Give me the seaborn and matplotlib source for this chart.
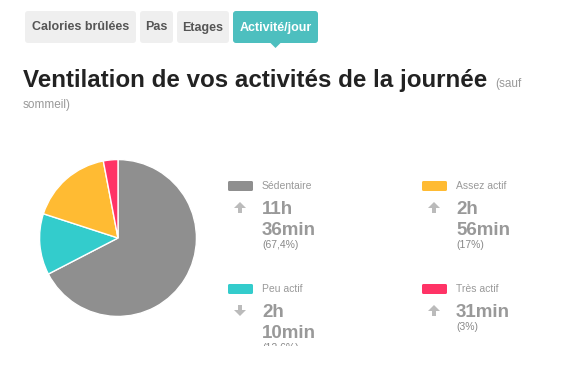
import matplotlib
matplotlib.use('Agg')
import matplotlib.pyplot as plt
import seaborn as sns
from matplotlib.patches import FancyBboxPatch, Polygon
from matplotlib.transforms import Bbox, TransformedBbox

sns.set_theme(style='white')
plt.rcParams['font.family'] = ['Liberation Sans', 'DejaVu Sans']

# data
categories = ['Sédentaire', 'Peu actif', 'Assez actif', 'Très actif']
shares = [67.4, 12.6, 17.0, 3.0]
durations = [['11h', '36min'], ['2h', '10min'], ['2h', '56min'], ['31min']]
share_labels = ['(67,4%)', '(12,6%)', '(17%)', '(3%)']
trends = ['up', 'down', 'up', 'up']
colors = ['#8f8f8f', '#33cccc', '#ffbb33', '#ff3366']
tabs = ['Calories brûlées', 'Pas', 'Etages', 'Activité/jour']

fig = plt.figure(figsize=(5.84, 3.81), dpi=100)
ax = fig.add_axes([0, 0, 1, 1])
ax.set_xlim(0, 584)
ax.set_ylim(381, 0)
ax.axis('off')

# tabs
tab_x = [25, 140, 177, 233]
tab_w = [111, 33, 52, 85]
for i, (lab, x0, w) in enumerate(zip(tabs, tab_x, tab_w)):
    active = i == len(tabs) - 1
    fc = '#4dbfbf' if active else '#efefef'
    ax.add_patch(FancyBboxPatch((x0, 11), w, 32, boxstyle='round,pad=0,rounding_size=3',
                                fc=fc, ec='none'))
    ax.text(x0 + w / 2, 27.5, lab, ha='center', va='center', fontsize=9, fontweight='bold',
            color='white' if active else '#555555')
    if active:
        cx = x0 + w / 2
        ax.add_patch(Polygon([[cx - 5, 43], [cx + 5, 43], [cx, 48]], fc=fc, ec='none'))

# title
ax.text(23, 87, 'Ventilation de vos activités de la journée', fontsize=17.4, fontweight='bold',
        color='#222222', va='baseline')
ax.text(495, 87, '(sauf', fontsize=8.5, color='#999999', va='baseline')
ax.text(23, 108, 'sommeil)', fontsize=8.5, color='#999999', va='baseline')

# pie
pax = fig.add_axes([(118 - 80) / 584, (381 - 238 - 80) / 381, 160 / 584, 160 / 381])
pax.pie(shares, colors=colors, startangle=90, counterclock=False,
        wedgeprops=dict(edgecolor='white', linewidth=1))
pax.set_xlim(-1.02, 1.02)
pax.set_ylim(-1.02, 1.02)
pax.set_aspect('equal')


def trend_arrow(cx, top, up):
    # small block arrow: head 6px tall, 12px wide, stem 4px wide
    if up:
        pts = [[cx, top], [cx + 6, top + 6], [cx + 2, top + 6], [cx + 2, top + 11],
               [cx - 2, top + 11], [cx - 2, top + 6], [cx - 6, top + 6]]
    else:
        b = top + 11
        pts = [[cx, b], [cx + 6, b - 6], [cx + 2, b - 6], [cx + 2, top],
               [cx - 2, top], [cx - 2, b - 6], [cx - 6, b - 6]]
    ax.add_patch(Polygon(pts, fc='#bbbbbb', ec='none'))


# legend blocks
pos = [(228, 181), (228, 284), (422, 181), (422, 284)]
clipbox = TransformedBbox(Bbox([[0, 0], [584, 346]]), ax.transData)
for i, (x0, y0) in enumerate(pos):
    ax.add_patch(FancyBboxPatch((x0, y0), 25, 10, boxstyle='round,pad=0,rounding_size=1.5',
                                fc=colors[i], ec='none'))
    ax.text(x0 + 34, y0 + 5, categories[i], fontsize=7.5, color='#999999', va='center')
    trend_arrow(x0 + 12, y0 + 21, trends[i] == 'up')
    yy = y0 + 33
    for part in durations[i]:
        ax.text(x0 + 34, yy, part, fontsize=13.5, fontweight='bold', color='#999999',
                va='baseline')
        yy += 21
    t = ax.text(x0 + 34, yy - 8, share_labels[i], fontsize=7.5, color='#888888',
                va='baseline')
    t.set_clip_on(True)
    t.set_clip_box(clipbox)

fig.savefig('out.png', dpi=100)
